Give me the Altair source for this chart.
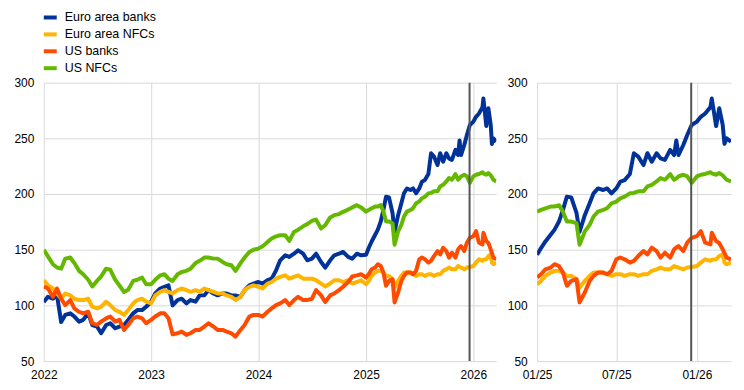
import altair as alt
import pandas as pd

series_names = ["Euro area banks", "Euro area NFCs", "US banks", "US NFCs"]
series_colors = ["#003299", "#ffb400", "#ff4b00", "#65b800"]

# sample dates: semi-monthly 2022-2024, denser from 2025
dates_early = [f"{y}-{m:02d}-{d:02d}" for y in (2022, 2023, 2024) for m in range(1, 13) for d in (1, 15)]
dates_recent = [
    "2025-01-01", "2025-01-10", "2025-01-20", "2025-02-01", "2025-02-10", "2025-02-20",
    "2025-03-01", "2025-03-10", "2025-03-20", "2025-04-01", "2025-04-08", "2025-04-20",
    "2025-05-01", "2025-05-10", "2025-05-20", "2025-06-01", "2025-06-10", "2025-06-20",
    "2025-07-01", "2025-07-10", "2025-07-20", "2025-08-01", "2025-08-10", "2025-08-20",
    "2025-09-01", "2025-09-10", "2025-09-20", "2025-10-01", "2025-10-10", "2025-10-20",
    "2025-11-01", "2025-11-10", "2025-11-15", "2025-11-20", "2025-12-01", "2025-12-10",
    "2025-12-20", "2026-01-01", "2026-01-10", "2026-01-20", "2026-02-01", "2026-02-04",
    "2026-02-14", "2026-02-21", "2026-03-01", "2026-03-05", "2026-03-10", "2026-03-20",
]
dates = dates_early + dates_recent

euro_banks_early = [
    103, 107.7, 106, 109, 85, 91.4, 92.9, 90, 85.4, 87, 92.9, 82.4,
    81, 75, 82.4, 84, 79.5, 81, 82.4, 87, 92.9, 95.8, 95.8, 98.8,
    103.3, 110.7, 115.2, 116.7, 118, 100, 104.8, 106, 101.8, 104.8, 103.3, 109,
    109, 113.7, 110.7, 109, 110.7, 110.7, 109, 109, 107.7, 113.7, 118, 119.6,
    121, 119.6, 122.6, 124, 131.5, 140.5, 145, 143.5, 146.4, 149.4, 146.4, 140.5,
    142, 146.4, 139, 134, 140.5, 145, 146.4, 148, 143.5, 142, 146.4, 145,
]
euro_banks_recent = [
    145.5, 151.5, 157.4, 163.4, 168, 175.3, 185.7, 197.6, 197, 183, 166, 181,
    191.7, 200.6, 205, 203.6, 205, 200.6, 205, 211, 212.5, 218, 236.6, 233.6,
    226, 236.6, 229, 236.6, 232, 230.6, 239.6, 235, 248, 235, 244, 253,
    262, 265, 269.3, 272.3, 278, 285.7, 261, 277, 262, 245, 250, 247,
]

euro_nfcs_early = [
    122.6, 118, 115.2, 110.7, 106, 110.7, 109, 106, 104.8, 104.8, 106, 98.8,
    97.3, 98.8, 103.3, 100.3, 95.8, 94.3, 91.4, 95.8, 101.8, 104.8, 106, 103.3,
    101.8, 109, 112.2, 113.7, 112.2, 110.7, 113.7, 115.2, 113.7, 112.2, 113.7, 112.2,
    115.2, 113.7, 112.2, 110.7, 110.7, 109, 107.7, 104.8, 107.7, 113.7, 116.7, 118,
    116.7, 115.2, 119.6, 121, 124, 125.6, 127, 124, 125.6, 127, 124, 124,
    124, 122.6, 119.6, 117, 119.6, 122.6, 122.6, 121, 122.6, 119.6, 121, 122.6,
]
euro_nfcs_recent = [
    119, 122, 126.5, 129.5, 131, 131, 129.5, 126.5, 126.5, 123.5, 116, 122,
    126.5, 129.5, 129.5, 129.5, 128, 126.5, 128, 128, 126.5, 128, 128, 126.5,
    128, 128, 131, 132.4, 134, 132.4, 132.4, 135.4, 134.5, 134, 132.4, 134,
    134.5, 135.4, 138.4, 141.4, 140, 141, 141.4, 144.3, 145.8, 138.4, 137, 138.4,
]

us_banks_early = [
    117, 115.2, 107.7, 115.2, 106, 100.3, 104.8, 97.3, 94.3, 92.9, 94.3, 84,
    82.4, 85.4, 88.4, 90, 85.4, 87, 78, 82.4, 88.4, 90, 88.4, 84,
    87, 90, 92.9, 92.9, 88.4, 74, 75, 76.5, 73.5, 75, 78, 78,
    81, 84, 81, 78, 78, 76.5, 75, 72, 78, 82.4, 90, 91.4,
    91.4, 90, 94.3, 97.3, 100.3, 101.8, 104.8, 100.3, 104.8, 107.7, 104.8, 104.8,
    106, 113.7, 109, 103, 109, 110.7, 113.7, 116.7, 121, 126, 127, 128,
]
us_banks_recent = [
    125, 128, 132.4, 134, 137, 135.4, 129.5, 117.6, 122, 123.5, 102.7, 111.6,
    122, 126.5, 129.5, 129.5, 128, 131, 141.4, 143, 141.4, 138.4, 140, 144.3,
    148.8, 145.8, 151.8, 148.8, 142.9, 147.3, 142.9, 150.3, 152, 153.3, 148.8, 156.3,
    160.7, 162.2, 166.7, 156.3, 154.8, 165.2, 157.7, 156, 150.3, 147, 142.9, 141.4,
]

us_nfcs_early = [
    150, 144, 137, 134, 133, 142, 143, 138, 131, 128, 123, 117,
    122, 126, 133, 132, 123, 118, 112, 114, 122, 123, 125, 119,
    119, 123, 127, 128, 124, 122, 128, 130, 131, 133, 138, 140,
    143, 143, 142, 142, 139, 137, 136, 131, 138, 143, 148, 150,
    151, 153, 157, 160, 162, 163, 163, 158, 166, 168, 171, 173,
    176, 177, 169, 172, 179, 181, 182, 184, 186, 188, 190, 188,
]
us_nfcs_recent = [
    184.2, 185.7, 187.2, 188.7, 188.7, 190, 184.2, 175.3, 175.3, 173.8, 154.5, 166.4,
    172.3, 179.8, 184.2, 185.7, 187.2, 191.7, 193.2, 196.1, 197.6, 200.6, 201, 202.4,
    202.4, 206.8, 208.3, 211.3, 214.3, 212.8, 217.9, 212.8, 214, 215.8, 217.3, 215.8,
    210, 215.8, 217.3, 218, 219.6, 218.5, 217.3, 218.8, 216.7, 215, 212.8, 211.3,
]

marker_date = ["2025-12-19"]
y_ticks = [50, 100, 150, 200, 250, 300]

series_values = [
    euro_banks_early + euro_banks_recent,
    euro_nfcs_early + euro_nfcs_recent,
    us_banks_early + us_banks_recent,
    us_nfcs_early + us_nfcs_recent,
]

rows = []
for order, (name, vals) in enumerate(zip(series_names, series_values)):
    for d, v in zip(dates, vals):
        rows.append({"date": d, "series": name, "value": v, "order": order})
df = pd.DataFrame(rows)
df_recent = df[df["date"] >= "2025-01-01"]
marker_df = pd.DataFrame({"date": marker_date})

FONT = "Liberation Sans"


def dt(y, m, d):
    return alt.DateTime(year=y, month=m, date=d, utc=True)


y_enc = alt.Y(
    "value:Q",
    scale=alt.Scale(domain=[50, 300], nice=False, zero=False),
    axis=alt.Axis(values=y_ticks, title=None, labelPadding=10, grid=True),
)

color_left = alt.Color(
    "series:N",
    scale=alt.Scale(domain=series_names, range=series_colors),
    sort=series_names,
    legend=alt.Legend(
        title=None, orient="none", legendX=-2, legendY=-74, direction="vertical",
        symbolType="stroke", symbolStrokeWidth=4, symbolSize=169,
        labelFontSize=12.5, labelFont=FONT, labelColor="#000", rowPadding=0,
        labelOffset=6, padding=0,
    ),
)
color_right = alt.Color(
    "series:N",
    scale=alt.Scale(domain=series_names, range=series_colors),
    legend=None,
)

x_left = alt.X(
    "date:T",
    scale=alt.Scale(type="utc", domain=[dt(2022, 1, 1), dt(2026, 3, 20)]),
    axis=alt.Axis(
        values=[dt(2022, 1, 1), dt(2023, 1, 1), dt(2024, 1, 1), dt(2025, 1, 1), dt(2026, 1, 1)],
        format="%Y", title=None, labelFlush=False, labelPadding=8, grid=True,
    ),
)
x_right = alt.X(
    "date:T",
    scale=alt.Scale(type="utc", domain=[dt(2025, 1, 1), dt(2026, 3, 20)]),
    axis=alt.Axis(
        values=[dt(2025, 1, 1), dt(2025, 7, 1), dt(2026, 1, 1)],
        format="%m/%y", title=None, labelFlush=False, labelPadding=8, grid=True,
    ),
)

lines_left = alt.Chart(df).mark_line(strokeWidth=4, clip=True, strokeJoin="round").encode(
    x=x_left, y=y_enc, color=color_left, order="order:O", detail="series:N"
)
rule_left = alt.Chart(marker_df).mark_rule(color="#555555", strokeWidth=2).encode(x="date:T")
left = alt.layer(lines_left, rule_left).properties(width=455, height=280)

lines_right = alt.Chart(df_recent).mark_line(strokeWidth=4, clip=True, strokeJoin="round").encode(
    x=x_right, y=y_enc, color=color_right, detail="series:N"
)
rule_right = alt.Chart(marker_df).mark_rule(color="#555555", strokeWidth=2).encode(x="date:T")
right = alt.layer(lines_right, rule_right).properties(width=195, height=280)

chart = (
    alt.hconcat(left, right, spacing=10)
    .resolve_scale(x="independent", color="independent")
    .resolve_legend(color="independent")
    .properties(padding={"left": 5, "top": 0, "right": 5, "bottom": 5})
    .configure_view(stroke=None)
    .configure_axis(
        labelFont=FONT, labelFontSize=12, labelColor="#000", domain=False, ticks=False,
        gridColor="#d9d9d9", gridWidth=1,
    )
)

chart.save("out.html", embed_options={"renderer": "svg", "actions": False})
